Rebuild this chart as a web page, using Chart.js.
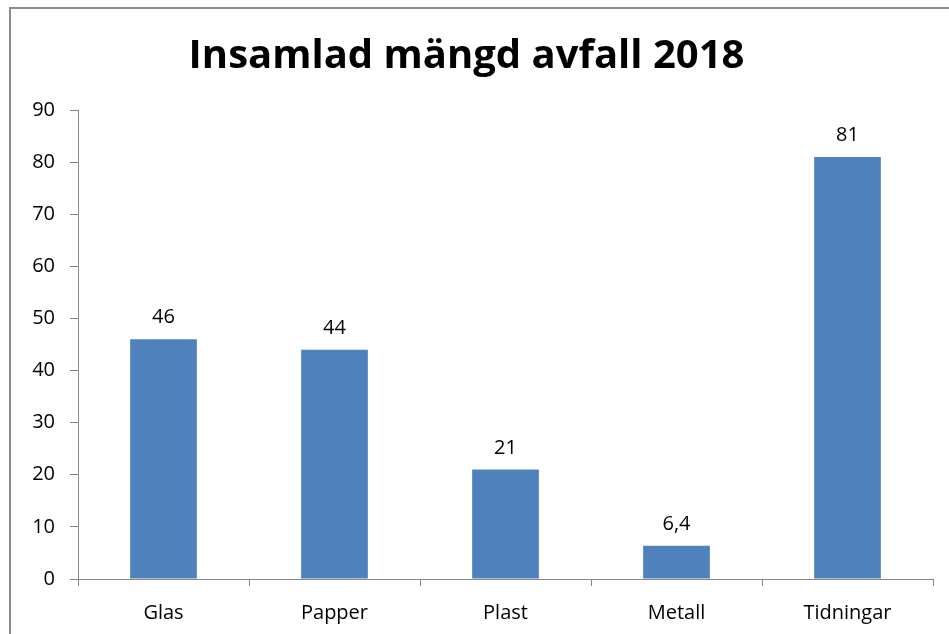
<!DOCTYPE html>
<html>
<head>
<meta charset="utf-8">
<script src="https://cdn.jsdelivr.net/npm/chart.js@4/dist/chart.umd.min.js"></script>
<style>
  html, body { margin: 0; padding: 0; background: #fff; }
  #wrap { width: 949px; height: 634px; position: relative; }
</style>
</head>
<body>
<div id="wrap"><canvas id="chart"></canvas></div>
<script>
// waste collected 2018, per category
const categories = ["Glas", "Papper", "Plast", "Metall", "Tidningar"];
const amounts = [46, 44, 21, 6.4, 81];
const yTicks = [0, 10, 20, 30, 40, 50, 60, 70, 80, 90];

const FONT = "'Open Sans', Lato, sans-serif";
const AXIS_GRAY = "#868686";

// swedish decimal comma
const fmt = (v) => String(v).replace(".", ",");

const frame = {
  id: "frame",
  beforeDraw(chart) {
    const c = chart.ctx;
    c.save();
    c.strokeStyle = "#8c8c8c";
    c.lineWidth = 2;
    c.strokeRect(10, 8, 1200, 1200); // outer border runs off the right/bottom edge
    c.restore();
  },
};

const valueLabels = {
  id: "valueLabels",
  afterDatasetsDraw(chart) {
    const c = chart.ctx;
    const meta = chart.getDatasetMeta(0);
    c.save();
    c.font = "20px " + FONT;
    c.fillStyle = "#000";
    c.textAlign = "center";
    c.textBaseline = "alphabetic";
    meta.data.forEach((bar, i) => {
      c.fillText(fmt(amounts[i]), bar.x, bar.y - 16);
    });
    c.restore();
  },
};

new Chart(document.getElementById("chart"), {
  type: "bar",
  data: {
    labels: categories,
    datasets: [{
      data: amounts,
      backgroundColor: "#4F81BD",
      borderWidth: 0,
      barPercentage: 0.78,
      categoryPercentage: 0.5,
    }],
  },
  options: {
    responsive: true, maintainAspectRatio: false, animation: false,
    layout: { padding: { left: 0, right: 16, top: 33, bottom: 0 } },
    plugins: {
      legend: { display: false },
      tooltip: { enabled: false },
      title: {
        display: true,
        text: "Insamlad mängd avfall 2018",
        color: "#000",
        font: { family: FONT, size: 40, weight: "bold" },
        padding: { top: 0, bottom: 29 },
      },
    },
    scales: {
      x: {
        grid: { drawOnChartArea: false, drawTicks: true, tickLength: 7, color: AXIS_GRAY, offset: true },
        border: { color: AXIS_GRAY, width: 1 },
        ticks: { color: "#000", font: { family: FONT, size: 20 }, padding: 15 },
        afterFit: (s) => { s.height = 55; },
      },
      y: {
        min: 0, max: 90,
        afterBuildTicks: (s) => { s.ticks = yTicks.map((v) => ({ value: v })); },
        grid: { drawOnChartArea: false, drawTicks: true, tickLength: 8, color: AXIS_GRAY },
        border: { color: AXIS_GRAY, width: 1 },
        ticks: { color: "#000", font: { family: FONT, size: 20 }, padding: 15 },
        afterFit: (s) => { s.width = 78; },
      },
    },
  },
  plugins: [frame, valueLabels],
});
</script>
</body>
</html>
